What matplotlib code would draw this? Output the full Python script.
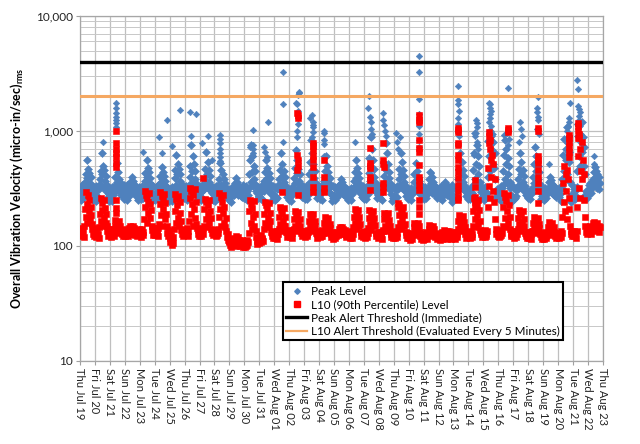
import datetime as dt
import numpy as np
import matplotlib
matplotlib.use("Agg")
import matplotlib.pyplot as plt
import matplotlib.dates as mdates
from matplotlib.ticker import FixedLocator, NullFormatter
from matplotlib.lines import Line2D

plt.rcParams['font.family'] = ['Lato', 'DejaVu Sans']

start = dt.datetime(2018, 7, 19)
n_days = 35

# Hourly L10 (90th percentile) levels, one row per day (hours 0..23)
l10_days = [
    [128,137,121,142,125,134,119, 150,210,180,295,230,160,275,200,250,170,220,185,155, 140,126,135,122],
    [131,120,139,124,143,127,117, 145,190,262,165,235,205,150,250,175,215,160,190,148, 136,123,140,127],
    [125,138,120,133,127,141,122, 135,150,168,140,160,130,155,145,165,138,150,132,128, 137,121,134,126],
    [130,123,140,126,135,121,143, 128,138,150,132,145,127,148,135,142,125,138,130,122, 134,126,141,128],
    [127,136,120,141,129,133,124, 170,303,220,280,160,260,240,195,290,175,230,205,150, 138,125,142,130],
    [132,124,140,127,135,121,143, 155,230,296,185,270,150,250,210,285,170,235,190,148, 130,138,123,134],
    [118,108,125,102,114,106,120, 140,200,285,160,255,225,175,270,150,240,195,165,138, 128,136,122,141],
    [130,124,139,127,144,121,135, 165,260,320,190,300,230,150,280,210,310,175,240,155, 142,126,137,123],
    [133,125,140,122,136,128,143, 150,210,255,170,240,145,225,190,250,160,200,175,140, 129,137,124,131],
    [128,137,122,133,125,140,130, 180,290,210,265,150,240,195,275,160,220,145,175,135, 120,112,126,108],
    [110,101,115,98,107,112,103, 105,118,110,122,100,116,108,120,104,113,99,110,106, 101,112,97,108],
    [104,97,110,100,113,102,108, 130,200,250,160,230,140,215,180,245,150,190,135,120, 110,104,116,107],
    [112,120,108,124,115,118,110, 140,190,240,160,225,145,210,175,235,150,195,165,132, 122,130,117,134],
    [125,118,131,121,136,115,128, 140,180,218,155,205,135,195,165,212,148,178,150,132, 120,133,124,137],
    [127,120,135,123,130,117,138, 140,170,200,150,190,135,182,160,198,145,172,150,130, 121,134,125,128],
    [124,131,119,136,126,122,133, 138,165,190,150,180,135,175,155,188,142,165,148,130, 118,127,122,135],
    [126,119,133,123,137,121,129, 135,160,178,145,170,130,165,150,175,138,155,142,128, 120,131,124,116],
    [122,130,118,127,121,133,125, 130,140,146,133,142,128,145,135,140,126,137,130,124, 119,128,121,131],
    [124,118,130,121,135,117,127, 145,180,210,160,200,140,195,170,205,150,180,155,133, 122,130,119,127],
    [123,131,118,126,134,120,129, 142,175,205,155,195,138,190,165,200,148,175,152,130, 121,128,117,133],
    [125,119,132,122,128,116,136, 138,170,195,150,185,135,180,160,192,144,168,148,128, 120,131,123,118],
    [121,129,117,134,124,119,130, 145,185,225,160,210,140,200,170,218,150,185,155,132, 124,118,129,121],
    [117,125,113,129,120,115,127, 128,145,160,135,155,125,152,140,158,130,148,133,122, 116,126,119,113],
    [120,114,127,118,131,116,124, 125,140,152,132,148,122,146,135,150,128,140,126,119, 123,115,128,117],
    [118,126,113,130,121,116,133, 120,128,137,118,132,124,135,115,129,122,136,119,127, 114,125,118,131],
    [121,129,116,125,133,119,127, 140,165,185,150,178,135,172,155,182,142,162,145,128, 118,131,122,126],
    [123,130,118,127,135,120,128, 150,200,260,170,240,145,225,185,250,155,205,165,138, 126,132,120,129],
    [125,132,120,137,127,122,134, 220,480,330,700,260,560,400,620,300,520,240,380,170, 140,128,135,122],
    [126,119,133,122,137,124,130, 150,220,290,175,265,145,245,200,280,160,225,180,140, 128,121,134,125],
    [122,130,117,126,134,119,128, 140,175,205,155,195,136,188,162,200,146,172,150,130, 121,127,118,132],
    [124,117,131,121,128,115,134, 136,160,178,145,170,130,165,150,175,138,156,142,127, 119,129,122,116],
    [120,127,115,131,122,117,128, 128,145,162,134,155,125,150,138,158,130,146,132,122, 117,126,119,130],
    [123,130,118,127,135,120,129, 180,350,240,500,200,420,300,460,170,380,260,210,150, 135,126,132,121],
    [127,121,134,125,130,118,136, 220,600,320,870,260,700,450,800,380,560,250,420,180, 150,132,140,127],
    [138,130,145,134,150,128,141, 145,158,140,162,148,135,155,143,160,137,150,132,146],
]

# Hourly Peak levels, one row per day (hours 0..23)
peak_days = [
    [268,322,251,296,338,259,305, 300,360,420,330,560,390,470,310,430,350,400,290,330, 292,253,327,270],
    [281,247,330,272,312,258,341, 310,380,450,340,640,420,500,320,460,370,410,300,340, 262,318,281,246],
    [255,309,287,244,327,276,298, 290,340,400,310,527,360,440,300,380,330,360,280,320, 305,271,339,258],
    [318,262,289,336,249,301,274, 280,320,360,300,400,330,370,290,345,310,330,270,310, 292,253,327,270],
    [266,320,254,299,335,261,308, 300,370,430,330,560,400,480,310,440,350,390,295,335, 285,250,330,268],
    [283,249,328,270,315,256,339, 295,350,410,320,490,380,440,300,410,340,370,285,325, 264,316,279,248],
    [257,311,284,246,329,274,300, 310,390,460,340,620,420,520,320,470,370,420,300,340, 303,269,337,260],
    [316,264,291,334,251,303,276, 320,400,500,350,760,450,600,330,520,380,450,310,350, 294,255,325,272],
    [270,324,253,294,336,257,307, 310,380,470,340,656,420,540,320,460,360,410,300,335, 289,251,329,266],
    [279,246,332,274,310,260,339, 300,380,527,340,460,320,420,300,380,310,350,280,320, 266,314,283,249],
    [259,307,285,242,325,278,296, 280,310,350,290,390,320,360,280,330,300,320,270,305, 301,268,336,262],
    [314,260,293,332,253,299,278, 320,420,560,360,760,440,600,330,500,380,450,300,340, 290,257,323,274],
    [272,318,256,292,340,255,309, 300,370,440,330,560,390,480,310,430,350,390,290,330, 287,249,331,264],
    [277,250,326,268,313,262,337, 310,380,460,340,643,410,520,320,450,360,400,300,335, 268,312,285,251],
    [261,305,289,248,323,280,294, 310,390,480,350,680,430,560,320,470,370,420,300,340, 299,266,334,264],
    [312,258,295,330,255,297,280, 320,420,540,360,835,460,640,330,520,390,450,310,350, 292,259,321,276],
    [274,316,258,290,338,253,311, 300,370,450,330,600,400,500,310,440,350,390,290,330, 285,247,333,262],
    [275,252,324,266,311,264,335, 280,310,345,295,380,320,360,285,335,300,325,270,305, 270,310,287,253],
    [263,303,291,250,321,282,292, 300,370,440,330,560,390,480,310,430,350,390,290,330, 297,264,332,266],
    [310,256,297,328,257,295,282, 330,430,580,370,890,480,700,340,560,400,470,310,350, 294,261,319,278],
    [276,314,260,288,336,251,313, 320,410,530,360,785,460,640,330,520,390,440,305,345, 283,245,335,260],
    [273,254,322,264,309,266,333, 310,380,470,340,643,420,540,320,460,360,410,300,335, 272,308,289,255],
    [265,301,293,252,319,284,290, 300,360,420,320,527,370,450,300,400,340,370,285,325, 295,262,330,268],
    [308,254,299,326,259,293,284, 290,330,380,305,440,350,400,290,360,315,340,280,315, 296,263,317,280],
    [278,312,262,286,334,249,315, 275,300,330,285,360,310,340,280,320,295,315,265,300, 281,243,337,258],
    [271,256,320,262,307,268,331, 310,380,470,340,643,420,540,320,460,360,410,300,335, 274,306,291,257],
    [267,299,295,254,317,286,288, 340,460,640,380,960,520,760,350,600,420,500,320,360, 293,260,328,270],
    [306,252,301,324,261,291,286, 400,820,600,1000,450,900,700,950,520,800,480,640,380, 298,265,315,282],
    [280,310,264,284,332,247,317, 340,450,620,380,835,520,700,350,580,420,500,320,360, 279,241,339,256],
    [269,258,318,260,305,270,329, 310,380,470,340,643,420,540,320,460,360,410,300,335, 276,304,293,259],
    [269,297,297,256,315,288,286, 320,400,520,350,726,450,600,330,500,380,440,305,345, 291,258,326,272],
    [304,250,303,322,263,289,288, 285,320,360,300,400,330,375,290,345,310,330,275,310, 300,267,313,284],
    [282,308,266,282,330,245,319, 380,620,450,850,400,700,560,1080,420,780,540,660,360, 277,239,341,254],
    [267,260,316,258,303,272,327, 450,900,600,1100,500,950,800,1200,650,880,500,720,420, 278,302,295,261],
    [300,340,285,320,355,290,330, 320,380,440,340,486,390,450,320,420,360,400,310,350],
]

# Isolated Peak excursions: (day offset from Jul 19 00:00, level)
peak_spike_t = [1.54, 2.40, 2.41, 2.41, 2.42, 2.42, 2.43, 2.43, 4.22, 5.29, 5.49, 5.82, 6.16, 6.69,
                7.36, 7.43, 7.76, 8.17, 8.57, 8.84, 9.37, 9.37, 9.38, 9.36, 9.38, 9.37, 9.36,
                11.38, 11.55, 11.6, 11.55, 11.6, 11.58, 12.3, 12.4, 12.5, 12.58,
                13.59, 13.59, 13.59, 14.45, 14.55, 14.6, 14.65, 14.68, 14.62, 14.6, 14.58, 14.55, 14.5,
                15.4, 15.55, 15.6, 15.62, 15.58, 15.6, 15.55, 15.62, 16.3, 16.33, 16.35, 16.3, 16.32,
                18.4, 19.3, 19.35, 19.4, 19.45, 19.5, 19.55, 19.42, 20.25, 20.3, 20.35, 20.4, 20.45,
                21.15, 21.2, 21.3, 21.4, 22.69, 22.69, 22.69, 22.7, 22.71, 22.68, 22.7, 22.72, 22.69,
                23.5, 25.28, 25.32, 25.3, 25.35, 25.3, 25.33, 25.28, 25.35,
                26.5, 26.55, 26.6, 26.45, 26.55, 26.62, 26.4,
                27.4, 27.45, 27.42, 27.48, 27.43, 27.47, 27.4, 27.5,
                28.65, 28.6, 28.7, 28.62, 28.4, 29.45, 29.55, 29.6, 29.4,
                30.66, 30.6, 30.62, 30.68, 30.65, 30.6, 30.7, 31.4,
                32.8, 32.7, 32.75, 32.65, 32.6, 32.7, 32.55,
                33.3, 33.32, 33.35, 33.4, 33.45, 33.38, 33.42, 33.3, 34.4, 34.42, 34.45]
peak_spike_v = [800, 1750, 1590, 1430, 1320, 1250, 1170, 1080, 660, 890, 640, 1250, 740, 1520,
                1460, 900, 1400, 790, 900, 560, 920, 850, 780, 700, 640, 590, 550,
                730, 760, 700, 640, 600, 1020, 726, 650, 590, 1200,
                3260, 1720, 800, 1750, 1700, 2060, 2140, 2200, 1500, 1300, 1150, 1000, 880,
                1300, 1380, 1200, 1130, 1080, 980, 880, 790, 1000, 960, 830, 770, 600,
                800, 1600, 2000, 1330, 1200, 1050, 950, 890, 1430, 1250, 1120, 1000, 900,
                960, 800, 700, 890, 4480, 3260, 1900, 1400, 1250, 1100, 950, 830, 720,
                430, 2460, 1860, 1700, 1500, 1300, 1150, 1000, 900,
                1250, 1170, 1080, 900, 800, 700, 620,
                1750, 1700, 1600, 1500, 1400, 1300, 1200, 1100,
                2350, 960, 850, 750, 920, 1200, 1050, 900, 800,
                1980, 1600, 1450, 1320, 1250, 1050, 950, 520,
                1760, 1300, 1200, 1100, 1000, 900, 850,
                2780, 2300, 1650, 1550, 1450, 1350, 1250, 1150, 600, 520, 490]

# Isolated L10 excursions: (day offset, level)
l10_spike_t = [2.42, 2.43, 2.42, 2.41, 2.43, 2.42, 2.42, 2.40, 2.42, 2.41, 8.2, 13.55,
               14.55, 14.56, 14.57, 14.55, 14.56, 14.57, 14.55, 14.56,
               15.6, 15.61, 15.6, 15.62, 15.6, 15.61, 15.6, 15.62, 15.6,
               16.3, 16.31, 16.3, 16.31,
               19.4, 19.41, 19.4, 19.42, 19.4, 19.41, 19.4,
               20.3, 20.31, 20.3, 20.32, 20.3, 20.31, 20.3, 21.3, 21.31,
               22.7, 22.71, 22.7, 22.71, 22.7, 22.71, 22.7, 22.72, 22.7, 22.71, 22.7, 22.72, 22.7, 22.71,
               25.3, 25.31, 25.3, 25.32, 25.3, 25.31, 25.3, 25.32, 25.3, 25.31, 25.3, 25.32, 25.3, 25.31,
               26.45, 26.46, 26.45, 26.47, 26.45,
               27.4, 27.41, 27.42, 27.4, 28.62, 28.63, 28.62,
               30.65, 30.66, 30.65, 30.66, 30.65, 30.66, 30.65, 30.66, 30.65, 30.66,
               32.7, 32.71, 32.7, 32.72, 32.7, 32.71,
               33.35, 33.36, 33.35, 33.37, 33.35]
l10_spike_v = [990, 790, 700, 640, 590, 527, 490, 251, 214, 193, 390, 295,
               1430, 1380, 1300, 620, 560, 500, 460, 278,
               790, 740, 680, 600, 560, 490, 400, 326, 295,
               560, 400, 320, 295,
               710, 530, 500, 475, 400, 375, 307,
               785, 560, 520, 485, 350, 325, 295, 236, 218,
               1380, 1250, 1200, 835, 710, 660, 505, 400, 375, 340, 307, 250, 218, 190,
               1060, 1020, 980, 785, 760, 620, 560, 490, 440, 390, 340, 300, 267, 250,
               375, 326, 267, 250, 218,
               980, 900, 830, 780, 1060, 1020, 980,
               1060, 1000, 600, 560, 530, 458, 400, 353, 300, 236,
               925, 870, 800, 720, 650, 590,
               1170, 1100, 1000, 950, 870]

peak_alert = 4000
l10_alert = 2000

series_labels = ["Peak Level", "L10 (90th Percentile) Level",
                 "Peak Alert Threshold (Immediate)",
                 "L10 Alert Threshold (Evaluated Every 5 Minutes)"]
ylabel = "Overall Vibration Velocity (micro-in/sec)$_{\\mathregular{rms}}$"


def expand(rows):
    t, v = [], []
    for d, row in enumerate(rows):
        for h, val in enumerate(row):
            t.append(start + dt.timedelta(days=d, hours=h))
            v.append(val)
    return t, v


def spikes(ts, vs):
    return [start + dt.timedelta(days=x) for x in ts], vs


pt, pv = expand(peak_days)
lt, lv = expand(l10_days)
pst, psv = spikes(peak_spike_t, peak_spike_v)
lst, lsv = spikes(l10_spike_t, l10_spike_v)

BLUE = "#4F81BD"
RED = "#FF0000"
ORANGE = "#F5A862"

fig = plt.figure(figsize=(6.4, 4.44), dpi=100)
ax = fig.add_axes([0.125, 0.187, 0.817, 0.777])

ax.plot(pt, pv, ls="none", marker="D", ms=3.6, mfc=BLUE, mec=BLUE, mew=0.4, zorder=3)
ax.plot(pst, psv, ls="none", marker="D", ms=3.3, mfc=BLUE, mec=BLUE, mew=0.4, zorder=3)
ax.plot(lt, lv, ls="none", marker="s", ms=4.2, mfc=RED, mec=RED, mew=0.4, zorder=4)
ax.plot(lst, lsv, ls="none", marker="s", ms=3.8, mfc=RED, mec=RED, mew=0.4, zorder=4)
ax.axhline(peak_alert, color="black", lw=2.4, zorder=5)
ax.axhline(l10_alert, color=ORANGE, lw=2.2, zorder=5)

ax.set_yscale("log")
ax.set_ylim(10, 10000)
ax.set_xlim(start, start + dt.timedelta(days=n_days))

ax.yaxis.set_major_locator(FixedLocator([10, 100, 1000, 10000]))
ax.set_yticklabels(["10", "100", "1,000", "10,000"])
minors = [m * 10 ** e for e in range(1, 4) for m in range(2, 10)]
ax.yaxis.set_minor_locator(FixedLocator(minors))
ax.yaxis.set_minor_formatter(NullFormatter())

ax.xaxis.set_major_locator(mdates.DayLocator())
ax.xaxis.set_major_formatter(mdates.DateFormatter("%a %b %d"))
for lab in ax.get_xticklabels():
    lab.set_rotation(270)
    lab.set_va("top")
    lab.set_ha("center")

ax.grid(True, which="major", color="#BFBFBF", lw=0.9, zorder=0)
ax.grid(True, which="minor", axis="y", color="#C8C8C8", lw=0.7, zorder=0)
ax.set_axisbelow(True)

ax.tick_params(axis="x", which="major", length=3, color="#A0A0A0", labelsize=8, pad=2, labelcolor="#222222")
ax.tick_params(axis="y", which="major", length=3, color="#A0A0A0", labelsize=8.5, pad=2, labelcolor="#222222")
ax.tick_params(axis="y", which="minor", length=0)
for s in ax.spines.values():
    s.set_color("#A6A6A6")
    s.set_linewidth(0.9)

ax.set_ylabel(ylabel, fontsize=9, fontweight="bold", labelpad=8)

handles = [
    Line2D([], [], ls="none", marker="D", ms=2.8, mfc=BLUE, mec=BLUE),
    Line2D([], [], ls="none", marker="s", ms=3.8, mfc=RED, mec=RED),
    Line2D([], [], color="black", lw=2.4),
    Line2D([], [], color=ORANGE, lw=1.6),
]
leg = fig.legend(handles, series_labels, loc="upper left",
                 bbox_to_anchor=(0.442, 0.364), bbox_transform=fig.transFigure,
                 fontsize=8.4, frameon=True, fancybox=False, framealpha=1,
                 handlelength=1.8, handletextpad=0.3, borderpad=0.3,
                 labelspacing=0.2, borderaxespad=0)
leg.get_frame().set_edgecolor("black")
leg.get_frame().set_linewidth(1.5)

fig.savefig("out.png", dpi=100)
